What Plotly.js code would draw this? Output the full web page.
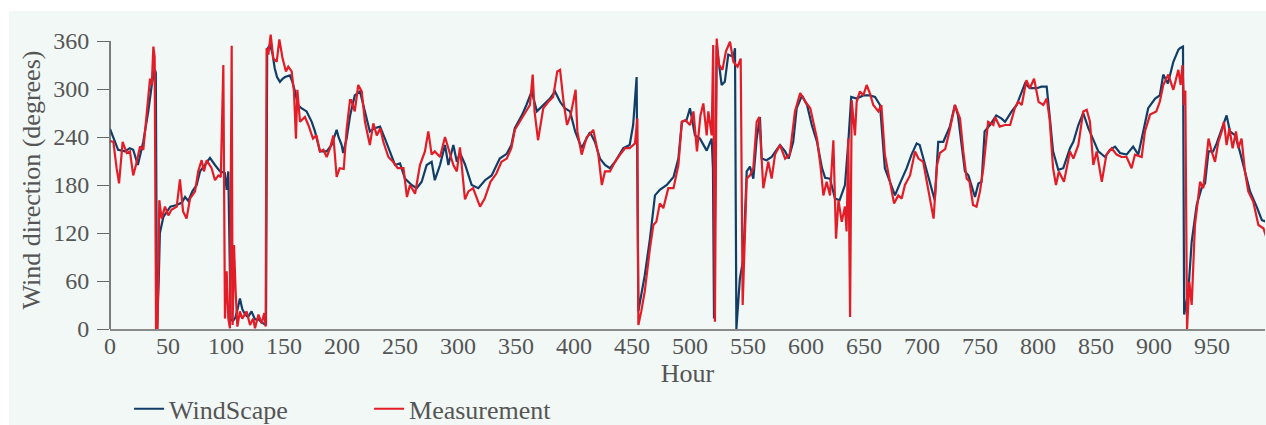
<!DOCTYPE html>
<html>
<head>
<meta charset="utf-8">
<script src="https://cdn.plot.ly/plotly-3.0.1.min.js"></script>
<style>
  html, body { margin: 0; padding: 0; background: #ffffff; overflow: hidden; }
  #chart { position: absolute; left: 9px; top: 11px; width: 1257px; height: 450px; }
</style>
</head>
<body>
<div id="chart"></div>
<script>
// ---- Data ----
const seriesNames = ["WindScape", "Measurement"];
const xTickValues = [0, 50, 100, 150, 200, 250, 300, 350, 400, 450, 500, 550, 600, 650, 700, 750, 800, 850, 900, 950];
const yTickValues = [0, 60, 120, 180, 240, 300, 360];

// WindScape (model) — hour / wind direction (degrees)
const windscapeHours = [0,3,7,13,17,20,24,28.7,33,36,38.5,39.5,40.5,42,43,46,52,57.5,62,64.7,67.5,71,74.7,77.6,82,86.2,90.5,94.8,99,100.6,102,104,106,108,110,112,114,116.4,119,122,125,128,131,133.6,134.5,135.5,138,140,142,144,146.5,149,150.9,155,157,159.5,162,165,169.5,173.9,176.7,181,186.8,191,195.4,197,199.7,201,204,207,211,215.5,219.8,224,228,232.8,237,241.4,245.7,250,254.3,260,264.4,268.7,273,277.3,280,284.5,288.8,291.7,296,299,301.7,306,311.8,317.5,323.3,329,336,342,346,349,355,359,363.5,368,373.5,379.3,383.6,388,392,396.6,401,406.6,410,413.8,418,422.4,426.7,431,435.4,442.5,448,451,454,455.5,456.9,461,465.5,469.8,474,480,485.8,490,493,497,500,504.3,508.6,514.4,518.7,519.8,520.7,523,524.4,527.3,530,533,537.4,538.8,540,543,546,548.9,551.7,554.6,557.5,560.3,561.8,566,570.4,577.6,582,585,589,592,596.6,600.9,605,609.5,613.8,616.5,620.7,625,629,633.6,636.5,639,643.7,649.4,655,659.5,663.8,668,672.4,676.7,681,686.8,691,695.4,698,702.6,707,711,714,718.4,724,728.4,731,734.2,737,740,743,745.7,748.6,751.4,754,758.6,764,768.7,771.6,777.3,781.6,786,788.8,793,798.9,803,807.5,810,813,817.5,821.8,827.6,830.5,834.8,839,843.4,847.7,852,857.8,862,866.4,870.7,876.4,879.3,882,886.5,891,895,901,905,908,912,916.7,918,921,922.4,925,926,929.6,932.5,936.8,941,944,947,951,954,958.4,962.6,965.5,970,974,978.4,982.8,988.5,993,997];
const windscapeValues = [250,238,224,222,226,224,205,234,272,305,325,320,2,60,120,140,153,155,158,165,160,172,180,197,205,214,205,197,195,174,197,12,10,14,25,38,25,18,15,22,12,12,8,5,5,350,355,345,326,315,309,313,315,317,310,297,280,276,272,259,247,222,222,230,249,240,230,220,238,267,292,297,272,247,251,253,238,222,205,207,188,180,176,184,205,209,186,205,230,205,230,209,220,206,180,176,186,192,213,219,230,251,267,280,297,272,280,288,297,284,276,272,247,226,236,246,234,213,205,201,209,226,230,255,315,22,34,67,113,167,174,180,190,213,259,261,276,242,238,223,238,200,13,355,338,305,309,343,340,351,0,63,88,197,203,188,238,265,213,211,215,230,222,213,234,276,292,280,255,234,201,189,188,163,161,180,234,290,288,292,292,290,280,201,184,167,182,201,218,232,230,205,180,161,234,234,253,280,267,230,197,192,176,165,182,184,247,255,267,263,259,272,280,297,307,301,301,303,303,267,222,199,201,226,234,255,270,251,236,222,215,224,228,220,218,224,228,218,251,276,288,292,318,307,334,338,349,351,353,18,47,109,155,176,182,222,222,232,251,267,247,242,222,197,172,153,136,134];

// Measurement — hour / wind direction (degrees)
const measurementHours = [0,2.9,5.7,7.8,10.9,14.4,17.2,20,22.4,25.9,28.7,31.6,34.5,36,37.4,38.5,39.7,41,42.5,44.5,47.4,50.3,53,57.5,60.3,63,66,69,73.3,76,79,81,83.3,87.6,90.5,93.4,95.5,97.7,99.1,100.6,102,103.4,104.9,105.7,106.9,108.3,109.8,112,114,117.8,120.7,123.5,125,128,130.7,133,134.2,135,136.5,138.5,140.8,143.7,146,148.8,151.7,153.7,156.6,158.6,160.3,161.5,163.8,168,171,175,178,181,184,186.8,189.7,192.5,195.4,198,201.5,204,206.9,208,211,214,217,219.8,224,227,230,233,235.6,240,244,248,253,256,258.6,263,267.2,271.5,274.4,277.3,280,284.5,288.8,291.7,296,299,301.7,306,309,313,319,323,328,333,337.5,342,346,349,353,357.8,362,364.4,366,369,373.5,377.9,382,385.6,388,391,394,397,401.4,402.9,406.6,411,414,416.6,421,424,426.7,431,435.4,439.7,444,448,452.6,454.6,455.5,458,461,465.5,468.4,471,474,477,481.3,485.8,490,493,496,500,503,506,509,511.5,514.4,515.8,518.7,520,521.5,523,525,528,531,534.5,537.4,541,543.7,545.4,547.4,548.9,551.7,554.6,557.5,559.7,563.2,567.5,570.4,573.3,577.6,582,586,590.5,595,599.4,603.7,606.6,609.5,612.4,615,617.8,620.7,623.6,625.9,628,630.8,633.6,635,636.5,638,639.4,642.2,643.7,646.5,649.4,652.3,655,658,662.4,665,668,672.4,675.9,679.6,682.5,685.3,689.7,694,697,701,704,707,710,713,715.5,720,724,728.4,732.8,735.6,738.5,741,744,747,750,752.9,755.7,757,761.5,763,767,771.6,776,780,783,786,790,793,796.6,800.5,804.6,807.5,810,813,815.5,818,822.4,826,827.6,830.5,834.8,839,842,844.8,847.7,850.6,855,859,863.5,867.8,872,876.4,880.7,883.6,889.4,892.2,896.6,902,905,908,912.4,916.7,921,923,924.5,925.9,927,928.5,930.5,932.5,935.3,938,939.7,942.5,947,949.7,952.6,955.5,958.4,960.3,962.6,965,967.8,970.7,972.7,975.5,978.4,981.3,985.6,990,994.3,997];
const measurementValues = [235,234,201,182,234,220,222,192,205,228,224,267,313,305,353,340,0,0,161,138,153,142,149,153,187,147,138,163,172,197,211,197,211,201,186,192,190,330,13,72,13,1,354,5,105,47,3,22,13,22,5,13,1,18,7,20,3,351,343,368,338,334,362,338,322,328,322,297,238,299,259,265,255,238,242,222,224,215,226,242,190,201,200,250,286,286,272,305,297,259,230,257,242,251,234,215,209,201,201,165,180,169,205,222,247,218,222,215,240,226,205,197,227,162,172,176,153,163,184,194,209,213,226,249,259,270,280,318,272,236,276,284,290,322,324,284,255,267,299,247,218,240,244,249,218,180,197,197,209,218,226,226,232,263,5,22,47,101,130,134,157,151,176,176,205,259,261,255,272,222,267,282,242,272,242,355,9,363,330,324,347,359,334,328,338,30,130,188,192,201,259,265,176,209,188,218,230,213,218,272,295,284,276,255,238,205,167,184,167,236,113,161,134,153,122,238,15,286,242,284,297,292,305,295,280,272,280,218,184,157,167,163,180,192,222,213,209,184,159,138,205,220,225,249,280,263,222,188,184,155,153,172,201,238,259,255,265,253,255,255,276,284,280,311,301,313,284,280,288,263,201,180,197,184,213,222,213,230,272,274,259,205,222,184,218,226,218,215,215,201,218,215,247,268,272,284,305,318,299,324,305,330,280,298,0,59,30,130,163,184,176,238,222,209,234,247,259,230,251,226,247,226,238,197,172,159,130,126,114];

// ---- Styling ----
const textColor = "#555555";
const fontFamily = "'Liberation Serif', 'DejaVu Serif', serif";

const traces = [
  {
    x: windscapeHours, y: windscapeValues, name: seriesNames[0],
    type: "scatter", mode: "lines",
    line: { color: "#123d66", width: 2.2 }
  },
  {
    x: measurementHours, y: measurementValues, name: seriesNames[1],
    type: "scatter", mode: "lines",
    line: { color: "#e31d27", width: 2.2 }
  }
];

const layout = {
  width: 1257, height: 450,
  margin: { l: 101, r: 1, t: 20, b: 132, pad: 0 },
  paper_bgcolor: "#f1f8f6",
  plot_bgcolor: "#f1f8f6",
  font: { family: fontFamily, color: textColor, size: 24 },
  showlegend: true,
  legend: {
    orientation: "h",
    x: 0.0165, xanchor: "left",
    y: -0.268, yanchor: "middle",
    font: { family: fontFamily, size: 26, color: textColor },
    entrywidth: 195,
    bgcolor: "rgba(0,0,0,0)",
    traceorder: "normal"
  },
  xaxis: {
    range: [0, 995.7],
    tickmode: "array",
    tickvals: xTickValues,
    ticktext: xTickValues.map(String),
    ticks: "",
    showgrid: false, zeroline: false,
    showline: true, linecolor: "#8a8a8a", linewidth: 2,
    tickfont: { family: fontFamily, size: 24, color: textColor },
    ticklabelstandoff: -6,
    automargin: true,
    title: { text: "Hour", font: { family: fontFamily, size: 26, color: textColor }, standoff: 5 }
  },
  yaxis: {
    range: [0, 372.5],
    tickmode: "array",
    tickvals: yTickValues,
    ticktext: yTickValues.map(String),
    ticks: "outside", ticklen: 12, tickcolor: "#666666", tickwidth: 1,
    showgrid: false, zeroline: false,
    showline: false,
    tickfont: { family: fontFamily, size: 24, color: textColor },
    ticklabelstandoff: 3,
    automargin: true,
    title: { text: "Wind direction (degrees)", font: { family: fontFamily, size: 26, color: textColor }, standoff: 5 }
  },
  shapes: [
    {
      type: "line", xref: "paper", yref: "y",
      x0: 0, x1: 0, y0: 0, y1: 360,
      line: { color: "#555555", width: 1.5 },
      layer: "above"
    }
  ]
};

Plotly.newPlot("chart", traces, layout, { staticPlot: true, displayModeBar: false });
</script>
</body>
</html>
